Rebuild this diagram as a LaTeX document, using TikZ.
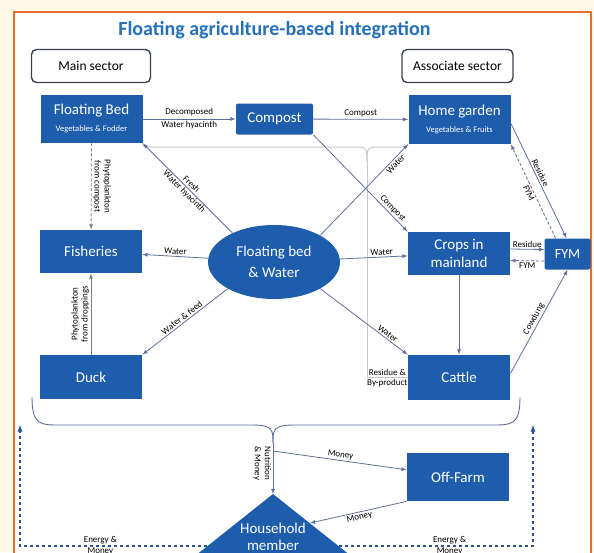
\documentclass[tikz,border=0pt]{standalone}
\usepackage{fontspec}
\setmainfont{Carlito}
\usetikzlibrary{positioning}
\usetikzlibrary{shapes.geometric}
\definecolor{boxc}{RGB}{30,92,172}
\definecolor{titc}{RGB}{36,112,186}
\definecolor{linec}{RGB}{96,112,158}
\definecolor{secc}{RGB}{60,64,86}
\definecolor{bracec}{RGB}{200,200,204}
\definecolor{framec}{RGB}{228,112,44}
\definecolor{paperc}{RGB}{255,248,230}
\definecolor{dashc}{RGB}{40,82,150}
\newcommand{\subfont}{\fontsize{8.5}{9}\selectfont}
\pgfdeclarelayer{bg}
\pgfsetlayers{bg,main}

\begin{document}
\begin{tikzpicture}[x=1pt, y=-1pt, >=latex, line width=.8pt]
		\tikzstyle{unit}=[rectangle, fill=boxc, text=white, inner sep=1pt,
		align=center, minimum width=102pt, font=\fontsize{15}{18}\selectfont]
		\tikzstyle{sector}=[rectangle, rounded corners=5pt, draw=secc, line width=1.4pt,
		fill=white, minimum height=33pt, font=\fontsize{13.5}{15}\selectfont]
		\tikzstyle{pool}=[ellipse, fill=boxc, text=white, minimum width=132pt,
		minimum height=74pt, inner sep=0pt, align=center, font=\fontsize{15}{21}\selectfont]
		\tikzstyle{flow}=[draw=linec, line width=.8pt]
		\tikzstyle{retflow}=[flow, densely dashed]
		\tikzstyle{lbl}=[font=\fontsize{9}{10}\selectfont, text=black, inner sep=1.5pt, align=center]
		\tikzstyle{resline}=[draw=bracec, line width=1pt]
		\tikzstyle{hbrace}=[draw=linec, line width=.9pt]
		\tikzstyle{energy}=[draw=dashc, line width=1.3pt, dashed]

		\useasboundingbox (0,0) rectangle (594,552);

		\node[font=\fontsize{20}{22}\selectfont\bfseries, text=titc](title) at (274.5,30)
		{Floating agriculture-based integration};
		\node[sector, minimum width=119pt](Main) at (91,66) {Main sector};
		\node[sector, minimum width=111pt](Assoc) at (457.5,66) {Associate sector};

		% main sector
		\node[unit, minimum height=48pt](FB) at (91.5,119)
		{Floating Bed\\[-1pt]{\subfont Vegetables \& Fodder}};
		\node[unit, minimum height=43pt](Fish) at (91,251.5) {Fisheries};
		\node[unit, minimum height=44pt](Duck) at (91,377) {Duck};
		\node[unit, minimum width=77pt, minimum height=31pt, rounded corners=2pt](Compost)
		at (274.5,119) {Compost};
		\node[pool](FBW) at (274,262) {Floating bed\\\& Water};

		% associate sector
		\node[unit, minimum height=49pt](HG) at (459.5,119.5)
		{Home garden\\[-1pt]{\subfont Vegetables \& Fruits}};
		\node[unit, minimum height=43pt](Crops) at (459,253.5) {Crops in\\mainland};
		\node[unit, minimum height=45pt](Cattle) at (459,377.5) {Cattle};
		\node[unit, minimum width=46pt, minimum height=31pt, rounded corners=2pt,
		font=\fontsize{14}{15}\selectfont](FYM) at (567.5,254) {FYM};

		% household
		\node[unit, minimum height=48pt](Off) at (458,477) {Off-Farm};
		\coordinate (hhTop) at (273,494);
		\coordinate (hhR) at (310,523);
		\coordinate (hhBL) at (207,546);
		\coordinate (hhBR) at (339,546);
		\fill[boxc] (hhTop) -- (195,556) -- (351,556) -- cycle;
		\node[text=white, align=center, font=\fontsize{15}{17}\selectfont](HH) at (273,536.5)
		{Household\\member};

		\coordinate (bmid) at (273,443);
		\coordinate (mfork) at (273,451);
		\coordinate (eLb) at (20,546);
		\coordinate (eL) at (20,425);
		\coordinate (eRb) at (533,546);
		\coordinate (eR) at (533,425);

		\begin{pgfonlayer}{bg}
			\fill[paperc] (0,0) rectangle (594,552);
			\fill[white] (14,12) rectangle (591,560);
			\draw[framec, line width=2.5pt] (14,560) -- (14,12) -- (591,12) -- (591,560);

			% Residue & by-product return
			\draw[resline] (FB.south east) .. controls (143,147) .. (152,147) -- (352,147)
			.. controls (367,147) .. (367,162);
			\draw[resline] (HG.south west) .. controls (408,147) .. (399,147) -- (382,147)
			.. controls (367,147) .. (367,162);
			\draw[resline] (Cattle.west) -- node[lbl, above] {Residue \&}
			node[lbl, below] {By-product} (367,377.5) -- (367,162);

			% Floating bed & Water connections
			\path (FBW.145) edge [flow, ->] node[lbl, sloped] {Fresh\\Water hyacinth} (FB.south east);
			\path (FBW) edge [flow, ->] node[lbl, above, sloped] {Water} (Fish);
			\path (FBW.210) edge [flow, ->] node[lbl, above, sloped] {Water \& feed} (Duck.north east);
			\path (FBW.30) edge [flow, ->] node[lbl, below, sloped, pos=.82] {Water} (HG.south west);
			\path (FBW) edge [flow, ->] node[lbl, above, sloped, pos=.62] {Water} (Crops);
			\path (FBW.330) edge [flow, ->] node[lbl, above, sloped, pos=.74] {Water} (Cattle.north west);

			% Main sector flows
			\path (FB) edge [flow, ->] node[lbl] {Decomposed\\[3pt]Water hyacinth} (Compost);
			\path (FB) edge [retflow, ->, draw=gray] node[lbl, rotate=-90, anchor=south]
			{Phytoplankton\\from compost} (Fish);
			\path (Duck) edge [flow, ->, draw=gray] node[lbl, rotate=90, anchor=south]
			{Phytoplankton\\from droppings} (Fish);
			\path (Compost) edge [flow, ->] node[lbl, above] {Compost} (HG);
			\path (Compost.south east) edge [flow, ->] node[lbl, above, sloped, pos=.8] {Compost}
			(Crops.north west);

			% Associate sector flows
			\path (Crops) edge [flow, ->] (Cattle);
			\path ([yshift=4.5pt]Crops.east) edge [flow, ->] node[lbl, above] {Residue}
			([yshift=4.5pt]FYM.west);
			\path ([yshift=-7pt]FYM.west) edge [retflow, ->] node[lbl, below] {FYM}
			([yshift=-7pt]Crops.east);
			\path ([yshift=-4pt]HG.east) edge [flow, ->] node[lbl, above, sloped, pos=.45] {Residue}
			([xshift=-1pt]FYM.north);
			\path ([xshift=-12pt]FYM.north) edge [retflow, ->] node[lbl, below, sloped] {FYM}
			(HG.south east);
			\path ([yshift=4pt]Cattle.east) edge [flow, ->] node[lbl, above, sloped] {Cowdung}
			(FYM.south);

			% Household connections
			\draw[hbrace] (32,397) .. controls (32,425) and (40,425) .. (60,425) -- (252,425)
			.. controls (273,425) and (273,430) .. (bmid);
			\draw[hbrace] (520,397) .. controls (520,425) and (512,425) .. (492,425) -- (294,425)
			.. controls (273,425) and (273,430) .. (bmid);
			\path (bmid) edge [flow, ->] node[lbl, rotate=-90, anchor=north, pos=.4]
			{Nutrition\\\& Money} (hhTop);
			\path (mfork) edge [flow, ->] node[lbl, above, sloped] {Money} (Off);
			\path (Off.south west) edge [flow, ->] node[lbl, below, sloped] {Money} (hhR);
			\draw[energy, ->] (hhBL) -- node[lbl, above, pos=.57] {Energy \&}
			node[lbl, below, pos=.57] {Money} (eLb) -- (eL);
			\draw[energy, ->] (hhBR) -- node[lbl, above, pos=.57] {Energy \&}
			node[lbl, below, pos=.57] {Money} (eRb) -- (eR);
		\end{pgfonlayer}

\end{tikzpicture}
\end{document}
